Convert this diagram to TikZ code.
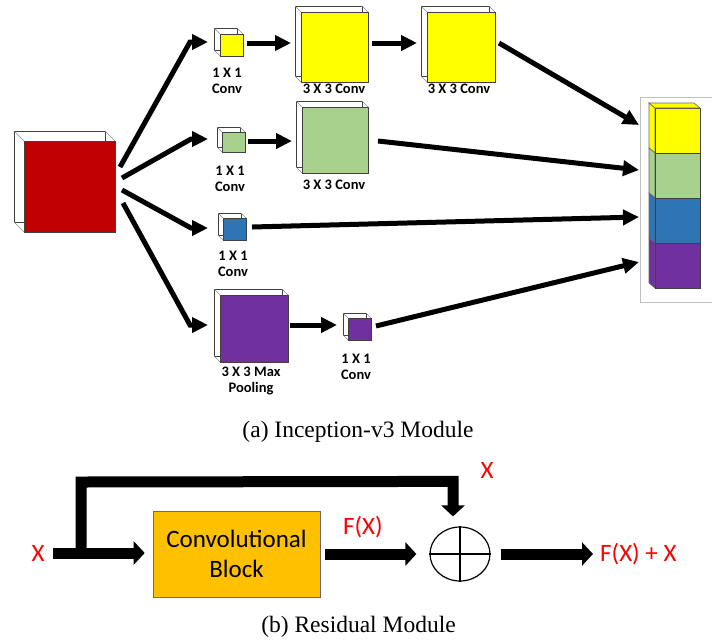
\documentclass[tikz,border=0pt]{standalone}
\usepackage{fontspec}
\setmainfont{Liberation Serif}
\newfontfamily\calfont{Carlito}
\usetikzlibrary{arrows.meta,calc,shapes.geometric}
\definecolor{cred}{HTML}{C00000}
\definecolor{cyel}{HTML}{FFFF00}
\definecolor{cgrn}{HTML}{A9D18E}
\definecolor{cblu}{HTML}{2E75B6}
\definecolor{cpur}{HTML}{7030A0}
\definecolor{corg}{HTML}{FFC000}
\tikzset{
  backface/.style={fill=white,draw=black!75,line width=0.7pt},
  edgeln/.style={draw=black!45,line width=0.6pt},
  frontface/.style={draw=black!75,line width=0.8pt,inner sep=0pt,outer sep=0pt},
  arr/.style={line width=5pt,-{Triangle[length=16pt,width=15pt]}},
  bigarr/.style={line width=11pt,line join=miter,-{Triangle[length=11pt,width=23pt]}},
  lbl/.style={font={\calfont\bfseries\fontsize{14.5}{16.5}\selectfont},align=center,inner sep=0pt},
  redlbl/.style={font={\calfont\fontsize{25}{30}\selectfont},text=red,inner sep=0pt},
  caption/.style={font={\fontsize{23.5}{28}\selectfont},inner sep=0pt},
  stackblk/.style={draw=black!75,line width=0.8pt,inner sep=0pt,outer sep=0pt,minimum width=45pt,minimum height=45pt,anchor=north west},
}
\newcommand\mycube[7]{% name, x, y, w, h, d, color
  \draw[backface] (#2-#6,#3-#6) rectangle (#2+#4-#6,#3+#5-#6);
  \draw[edgeln] (#2-#6,#3-#6) -- (#2,#3) (#2+#4-#6,#3-#6) -- (#2+#4,#3) (#2-#6,#3+#5-#6) -- (#2,#3+#5);
  \node[frontface,fill=#7,minimum width=#4pt,minimum height=#5pt,anchor=north west] (#1) at (#2,#3) {};
}
\begin{document}
\begin{tikzpicture}[x=1pt,y=-1pt]
\useasboundingbox (0,0) rectangle (712,641);
% ---------- Inception module ----------
\mycube{red}{24}{141}{91}{91}{10}{cred}
\mycube{ys}{220}{34}{23}{22}{6}{cyel}
\mycube{yb1}{301}{12}{67}{70}{6}{cyel}
\mycube{yb2}{427}{12}{68}{70}{6}{cyel}
\mycube{gs}{222}{132}{23}{20}{5}{cgrn}
\mycube{gb}{302}{107}{66}{66}{6}{cgrn}
\mycube{bs}{223}{218}{23}{22}{5}{cblu}
\mycube{pb}{220}{295}{68}{67}{6}{cpur}
\mycube{ps}{348}{318}{23}{22}{5}{cpur}

\node[lbl] (lys) at (227,81) {1 X 1\\Conv};
\node[lbl] (lyb1) at (334,89) {3 X 3 Conv};
\node[lbl] (lyb2) at (459,89) {3 X 3 Conv};
\node[lbl] (lgs) at (230,179) {1 X 1\\Conv};
\node[lbl] (lgb) at (334,185) {3 X 3 Conv};
\node[lbl] (lbs) at (233,264) {1 X 1\\Conv};
\node[lbl] (lpb) at (251,381) {3 X 3 Max\\Pooling};
\node[lbl] (lps) at (356,367) {1 X 1\\Conv};

% concatenation stack
\node[draw=black!25,line width=0.6pt,minimum width=85pt,minimum height=205pt,anchor=north west,inner sep=0pt,outer sep=0pt] (concat) at (640,97) {};
\foreach \nm/\col/\top in {sy/cyel/108,sg/cgrn/153,sb/cblu/198,sp/cpur/243}{
  \draw[fill=\col,draw=black!60,line width=0.6pt] (649,\top-5) -- (655,\top) -- (655,\top+45) -- (649,\top+40) -- cycle;
  \node[stackblk,fill=\col] (\nm) at (655,\top) {};
}
\draw[fill=cyel,draw=black!60,line width=0.6pt] (649,103) -- (694,103) -- (700,108) -- (655,108) -- cycle;

% fan arrows
\draw[arr] ($(red.east)+(5,-19.5)$) -- ($(ys.west)+(-30,-3)$) -- ($(ys.west)+(-12,-3)$);
\draw[arr] ($(red.east)+(7,-8.5)$) -- ($(gs.west)+(-31,-3)$) -- ($(gs.west)+(-14,-3)$);
\draw[arr] ($(red.east)+(7,3.5)$) -- ($(bs.west)+(-32,-1)$) -- ($(bs.west)+(-15,-1)$);
\draw[arr] ($(red.east)+(8,16.5)$) -- ($(pb.west)+(-30,-3.5)$) -- ($(pb.west)+(-12,-3.5)$);
% branch arrows
\draw[arr] ($(ys.east)+(4,-2)$) -- ($(yb1.west)+(-10,-4)$);
\draw[arr] ($(yb1.east)+(4,-4)$) -- ($(yb2.west)+(-10,-4)$);
\draw[arr] ($(gs.east)+(3,-1)$) -- ($(gb.west)+(-10,1)$);
\draw[arr] ($(pb.east)+(2,-3.5)$) -- ($(ps.west)+(-11,-4)$);
% into concat
\draw[arr] ($(yb2.east)+(4,-4)$) -- ($(concat.west)+(-1,-74.5)$);
\draw[arr] ($(gb.east)+(10,1)$) -- ($(concat.west)+(-1,-29.5)$);
\draw[arr] ($(bs.east)+(6,-2)$) -- ($(concat.west)+(-1,17.5)$);
\draw[arr] ($(ps.east)+(5,-3)$) -- ($(concat.west)+(-1,62.5)$);

\node[caption] (capa) at (358,432) {(a) Inception-v3 Module};

% ---------- Residual module ----------
\node[draw=black!25!blue!20!gray,line width=0.6pt,fill=corg,minimum width=167pt,minimum height=86pt,inner sep=0pt,align=center,font={\calfont\fontsize{25}{30}\selectfont}] (conv) at (236.5,554) {Convolutional\\Block};
\node[ellipse,draw=black,line width=1.2pt,minimum width=60pt,minimum height=54pt,inner sep=0pt] (sum) at (460,554) {};
\draw[line width=1.2pt] (sum.north) -- (sum.south) (sum.west) -- (sum.east);
\node[redlbl] (xin) at (38,553) {X};
\coordinate (xstart) at (53,553);
\node[redlbl] (xtop) at (487,470) {X};
\node[redlbl] (fx) at (363,527) {F(X)};
\node[redlbl,anchor=west] (out) at (600,554) {F(X) + X};

\draw[bigarr] ($(xstart)+(28,5.5)$) -- ($(xstart)+(28,-71)$) -- ($(sum.north)+(-7,-45)$) -- ($(sum.north)+(-7,-10)$);
\draw[bigarr] (xstart) -- ($(conv.west)+(-8,-1)$);
\draw[bigarr] ($(conv.east)+(5,0)$) -- ($(sum.west)+(-13,0)$);
\draw[bigarr] ($(sum.east)+(10,0)$) -- ($(out.west)+(-7,0)$);

\node[caption] (capb) at (358.5,627) {(b) Residual Module};
\end{tikzpicture}
\end{document}
